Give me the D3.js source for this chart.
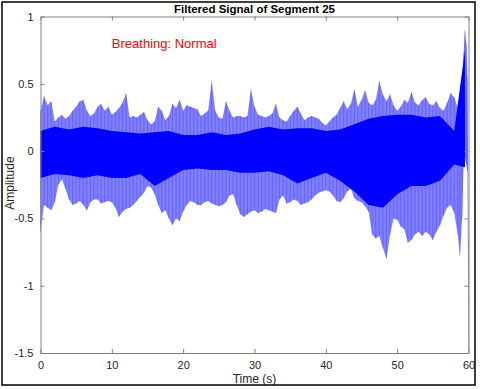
<!DOCTYPE html>
<html>
<head>
<meta charset="utf-8">
<script src="https://cdn.jsdelivr.net/npm/d3@7"></script>
<style>
    body { margin: 0; background: #fff; }
    svg text { font-family: "Liberation Sans", Arial, sans-serif; }
</style>
</head>
<body>
<svg id="chart" width="480" height="389"></svg>
<script>
// Envelope of the filtered signal, every 0.5 s (0 .. 58.5 s)
var STEP = 0.5;
var peakHi = [
    0.30, 0.41, 0.34, 0.37, 0.22, 0.25, 0.27, 0.24, 0.26, 0.30,
    0.33, 0.37, 0.38, 0.30, 0.26, 0.28, 0.33, 0.35, 0.30, 0.33,
    0.27, 0.29, 0.32, 0.36, 0.43, 0.25, 0.26, 0.25, 0.27, 0.29,
    0.23, 0.20, 0.22, 0.33, 0.30, 0.23, 0.26, 0.35, 0.32, 0.38,
    0.30, 0.34, 0.33, 0.32, 0.31, 0.26, 0.28, 0.30, 0.52, 0.30,
    0.25, 0.24, 0.37, 0.30, 0.25, 0.26, 0.26, 0.25, 0.26, 0.46,
    0.33, 0.27, 0.26, 0.25, 0.26, 0.28, 0.35, 0.25, 0.23, 0.22,
    0.26, 0.30, 0.33, 0.28, 0.23, 0.25, 0.26, 0.25, 0.24, 0.21,
    0.19, 0.22, 0.25, 0.27, 0.32, 0.37, 0.31, 0.35, 0.46, 0.33,
    0.38, 0.45, 0.36, 0.34, 0.38, 0.52, 0.42, 0.37, 0.42, 0.34,
    0.30, 0.33, 0.38, 0.36, 0.44, 0.36, 0.34, 0.38, 0.40, 0.35,
    0.34, 0.37, 0.32, 0.30, 0.36, 0.43, 0.40, 0.32
];
var peakLo = [
    -0.60, -0.40, -0.42, -0.44, -0.38, -0.25, -0.21, -0.28, -0.36, -0.40,
    -0.39, -0.37, -0.40, -0.44, -0.38, -0.36, -0.36, -0.39, -0.38, -0.37,
    -0.38, -0.42, -0.49, -0.45, -0.43, -0.42, -0.40, -0.37, -0.34, -0.31,
    -0.26, -0.27, -0.32, -0.40, -0.46, -0.44, -0.50, -0.55, -0.50, -0.52,
    -0.45, -0.40, -0.37, -0.38, -0.40, -0.40, -0.38, -0.37, -0.39, -0.40,
    -0.41, -0.40, -0.38, -0.33, -0.32, -0.40, -0.47, -0.49, -0.47, -0.45,
    -0.44, -0.46, -0.45, -0.43, -0.44, -0.45, -0.46, -0.36, -0.33, -0.39,
    -0.38, -0.36, -0.37, -0.40, -0.39, -0.38, -0.36, -0.33, -0.31, -0.30,
    -0.29, -0.30, -0.33, -0.37, -0.38, -0.35, -0.30, -0.28, -0.35, -0.37,
    -0.38, -0.41, -0.45, -0.62, -0.65, -0.63, -0.72, -0.80, -0.62, -0.50,
    -0.51, -0.56, -0.58, -0.68, -0.66, -0.62, -0.60, -0.63, -0.60, -0.62,
    -0.66, -0.60, -0.55, -0.48, -0.42, -0.40, -0.46, -0.62
];

// last second, sampled tighter because of the spike at the end
var tailTime = [58.8, 59.1, 59.3, 59.5, 59.7, 59.85, 60.0];
var tailHi = [0.00, 0.35, 0.72, 0.90, 0.80, 0.55, -0.65];
var tailLo = [-0.78, -0.50, -0.12, -0.05, -0.10, -0.15, -1.48];

// dense (dark) core of the trace, every 2 s
var coreTime = [0, 2, 4, 6, 8, 10, 12, 14, 16, 18, 20, 22, 24, 26, 28, 30,
                32, 34, 36, 38, 40, 42, 44, 46, 48, 50, 52, 54, 56, 58, 59.5];
var coreHi = [0.15, 0.18, 0.16, 0.18, 0.17, 0.15, 0.14, 0.13, 0.14, 0.15,
              0.12, 0.12, 0.14, 0.12, 0.13, 0.16, 0.18, 0.16, 0.17, 0.17,
              0.15, 0.16, 0.20, 0.24, 0.26, 0.27, 0.27, 0.25, 0.26, 0.15, 0.75];
var coreLo = [-0.20, -0.17, -0.18, -0.20, -0.18, -0.20, -0.20, -0.17, -0.26, -0.20,
              -0.14, -0.13, -0.14, -0.14, -0.16, -0.16, -0.15, -0.18, -0.24, -0.20,
              -0.16, -0.22, -0.30, -0.40, -0.42, -0.32, -0.26, -0.26, -0.22, -0.10, -0.12];

var xTicks = [0, 10, 20, 30, 40, 50, 60];
var yTicks = [-1.5, -1, -0.5, 0, 0.5, 1];

var TITLE = "Filtered Signal of Segment 25";
var NOTE = "Breathing: Normal";

var colors = {
    light: "#8080ff",
    dark: "#0000ff",
    axis: "#808080",
    text: "#262626",
    note: "#ff0000"
};

var margin = { top: 16.5, right: 11.5, bottom: 36, left: 40.5 };
var W = 480, H = 389;
var width = W - margin.left - margin.right;
var height = H - margin.top - margin.bottom;

var svg = d3.select("#chart");

// figure frame
svg.append("rect")
    .attr("x", 2).attr("y", 2)
    .attr("width", 473).attr("height", 383)
    .attr("fill", "#fff")
    .attr("stroke", "#000")
    .attr("stroke-width", 1.5);

var x = d3.scaleLinear().domain([0, 60]).range([0, width]);
var y = d3.scaleLinear().domain([-1.5, 1]).range([height, 0]);

var g = svg.append("g")
    .attr("transform", "translate(" + margin.left + "," + margin.top + ")");

// put the samples together
var env = peakHi.map(function (v, i) {
    return { t: i * STEP, hi: v, lo: peakLo[i] };
});
tailTime.forEach(function (t, i) {
    env.push({ t: t, hi: tailHi[i], lo: tailLo[i] });
});
var core = coreTime.map(function (t, i) {
    return { t: t, hi: coreHi[i], lo: coreLo[i] };
});

var band = d3.area()
    .x(function (d) { return x(d.t); })
    .y0(function (d) { return y(d.lo); })
    .y1(function (d) { return y(d.hi); });

g.append("path")
    .datum(env)
    .attr("d", band)
    .attr("fill", colors.light);

g.append("path")
    .datum(core)
    .attr("d", band)
    .attr("fill", colors.dark);

// individual strokes of the trace
g.append("g")
    .selectAll("line")
    .data(env)
    .enter()
    .append("line")
        .attr("x1", function (d) { return x(d.t); })
        .attr("x2", function (d) { return x(d.t); })
        .attr("y1", function (d) { return y(d.lo); })
        .attr("y2", function (d) { return y(d.hi); })
        .attr("stroke", colors.dark)
        .attr("stroke-opacity", 0.35)
        .attr("stroke-width", 0.7);

// box and ticks (MATLAB style, ticks inside on all four sides)
function styleAxis(sel) {
    sel.select(".domain").attr("stroke", colors.axis);
    sel.selectAll(".tick line").attr("stroke", colors.axis);
    sel.selectAll(".tick text")
        .attr("fill", colors.text)
        .style("font-size", "11px");
}

g.append("g")
    .attr("transform", "translate(0," + height + ")")
    .call(d3.axisBottom(x).tickValues(xTicks).tickSize(-4).tickPadding(8).tickSizeOuter(0))
    .call(styleAxis);

g.append("g")
    .call(d3.axisTop(x).tickValues(xTicks).tickSize(-4).tickFormat("").tickSizeOuter(0))
    .call(styleAxis);

g.append("g")
    .call(d3.axisLeft(y).tickValues(yTicks).tickSize(-4).tickPadding(7).tickSizeOuter(0)
        .tickFormat(function (d) { return d; }))
    .call(styleAxis);

g.append("g")
    .attr("transform", "translate(" + width + ",0)")
    .call(d3.axisRight(y).tickValues(yTicks).tickSize(-4).tickFormat("").tickSizeOuter(0))
    .call(styleAxis);

// labels
g.append("text")
    .attr("x", width / 2)
    .attr("y", -4)
    .attr("text-anchor", "middle")
    .attr("fill", "#000")
    .style("font-size", "11.5px")
    .style("font-weight", "bold")
    .text(TITLE);

g.append("text")
    .attr("x", width / 2)
    .attr("y", height + 30)
    .attr("text-anchor", "middle")
    .attr("fill", colors.text)
    .style("font-size", "12px")
    .text("Time (s)");

g.append("text")
    .attr("transform", "rotate(-90)")
    .attr("x", -y(0.0) - 32)
    .attr("y", -27)
    .attr("text-anchor", "middle")
    .attr("fill", colors.text)
    .style("font-size", "12px")
    .text("Amplitude");

g.append("text")
    .attr("x", x(10))
    .attr("y", y(0.8))
    .attr("dy", "0.35em")
    .attr("fill", colors.note)
    .style("font-size", "13px")
    .text(NOTE);
</script>
</body>
</html>
